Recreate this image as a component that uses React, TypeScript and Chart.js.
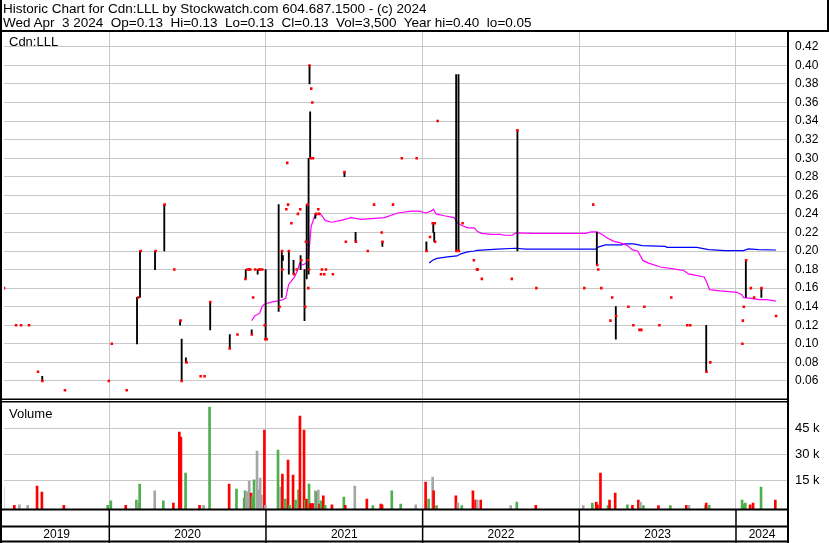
import React, { useEffect, useRef } from 'react';
import { Chart, registerables } from 'chart.js';

Chart.register(...registerables);

// ---------- text ----------
const TITLE_LINE_1 = 'Historic Chart for Cdn:LLL by Stockwatch.com 604.687.1500 - (c) 2024';
const TITLE_LINE_2 = 'Wed Apr  3 2024  Op=0.13  Hi=0.13  Lo=0.13  Cl=0.13  Vol=3,500  Year hi=0.40  lo=0.05';
const PRICE_PANEL_LABEL = 'Cdn:LLL';
const VOLUME_PANEL_LABEL = 'Volume';

// ---------- axes (dates as decimal years) ----------
const X_MIN = 2019.328;
const X_MAX = 2024.332;
const YEAR_STARTS = [2020, 2021, 2022, 2023, 2024];
const YEAR_LABELS = ['2019', '2020', '2021', '2022', '2023', '2024'];
const PRICE_MIN = 0.04;
const PRICE_MAX = 0.436;
const PRICE_STEP = 0.02;
const PRICE_LABEL_MIN = 0.06;
const PRICE_LABEL_MAX = 0.42;
const VOL_MIN = -1700;
const VOL_MAX = 62000;
const VOL_STEP = 15000;
const VOL_LABEL_MAX = 45000;

// ---------- daily high/low ranges ----------
const rangeDates = [
  2019.572, 2020.177, 2020.196, 2020.292, 2020.351, 2020.452, 2020.462, 2020.489, 2020.644, 2020.769,
  2020.871, 2020.909, 2020.947, 2020.998, 2021.081, 2021.101, 2021.108, 2021.146, 2021.176, 2021.221,
  2021.246, 2021.260, 2021.272, 2021.278, 2021.282, 2021.315, 2021.501, 2021.572, 2021.743, 2022.024,
  2022.068, 2022.074, 2022.214, 2022.229, 2022.605, 2023.112, 2023.233, 2023.810, 2024.063, 2024.162,
];
const rangeHigh = [
  0.065, 0.15, 0.20, 0.20, 0.25, 0.125, 0.105, 0.085, 0.145, 0.11,
  0.18, 0.115, 0.18, 0.18, 0.25, 0.20, 0.195, 0.20, 0.19, 0.195,
  0.18, 0.25, 0.30, 0.40, 0.35, 0.24, 0.285, 0.22, 0.21, 0.21,
  0.23, 0.22, 0.39, 0.39, 0.33, 0.22, 0.14, 0.12, 0.19, 0.16,
];
const rangeLow = [
  0.06, 0.10, 0.15, 0.18, 0.20, 0.12, 0.06, 0.08, 0.115, 0.095,
  0.17, 0.11, 0.175, 0.105, 0.135, 0.15, 0.19, 0.175, 0.175, 0.18,
  0.125, 0.17, 0.175, 0.38, 0.30, 0.235, 0.28, 0.21, 0.205, 0.20,
  0.22, 0.21, 0.20, 0.20, 0.20, 0.185, 0.105, 0.07, 0.15, 0.15,
];

// ---------- closing prices ----------
const closeDates = [
  2019.328, 2019.405, 2019.437, 2019.488, 2019.545, 2019.573, 2019.717, 2019.997, 2020.016, 2020.111,
  2020.185, 2020.201, 2020.296, 2020.353, 2020.415, 2020.455, 2020.462, 2020.493, 2020.583, 2020.608,
  2020.644, 2020.769, 2020.818, 2020.869, 2020.882, 2020.891, 2020.900, 2020.910, 2020.918, 2020.931,
  2020.956, 2020.964, 2020.977, 2020.992, 2020.996, 2021.005, 2021.087, 2021.103, 2021.105, 2021.130,
  2021.136, 2021.141, 2021.146, 2021.162, 2021.179, 2021.196, 2021.204, 2021.219, 2021.226, 2021.251,
  2021.255, 2021.266, 2021.268, 2021.270, 2021.275, 2021.278, 2021.289, 2021.296, 2021.286, 2021.300,
  2021.321, 2021.334, 2021.340, 2021.351, 2021.357, 2021.372, 2021.383, 2021.427, 2021.501, 2021.510,
  2021.574, 2021.650, 2021.690, 2021.739, 2021.744, 2021.811, 2021.867, 2021.962, 2022.026, 2022.047,
  2022.064, 2022.077, 2022.080, 2022.096, 2022.216, 2022.231, 2022.255, 2022.327, 2022.346, 2022.352,
  2022.378, 2022.569, 2022.605, 2022.726, 2023.032, 2023.089, 2023.114, 2023.121, 2023.140, 2023.199,
  2023.210, 2023.235, 2023.313, 2023.345, 2023.384, 2023.396, 2023.415, 2023.511, 2023.587, 2023.689,
  2023.708, 2023.812, 2023.836, 2024.041, 2024.044, 2024.050, 2024.065, 2024.095, 2024.116, 2024.163,
  2024.256,
];
const closePrices = [
  0.16, 0.12, 0.12, 0.12, 0.07, 0.06, 0.05, 0.06, 0.10, 0.05,
  0.15, 0.20, 0.20, 0.25, 0.18, 0.125, 0.06, 0.08, 0.065, 0.065,
  0.145, 0.095, 0.11, 0.17, 0.18, 0.18, 0.18, 0.11, 0.15, 0.18,
  0.18, 0.18, 0.18, 0.12, 0.105, 0.105, 0.14, 0.20, 0.18, 0.245,
  0.295, 0.25, 0.20, 0.23, 0.175, 0.18, 0.24, 0.245, 0.19, 0.14,
  0.21, 0.25, 0.19, 0.16, 0.18, 0.40, 0.375, 0.36, 0.30, 0.30,
  0.24, 0.245, 0.24, 0.175, 0.18, 0.175, 0.18, 0.175, 0.285, 0.21,
  0.21, 0.20, 0.25, 0.22, 0.21, 0.25, 0.30, 0.30, 0.20, 0.215,
  0.23, 0.23, 0.21, 0.34, 0.20, 0.20, 0.23, 0.19, 0.18, 0.18,
  0.17, 0.17, 0.33, 0.16, 0.16, 0.25, 0.185, 0.18, 0.16, 0.125,
  0.15, 0.13, 0.14, 0.12, 0.115, 0.115, 0.14, 0.12, 0.15, 0.12,
  0.12, 0.07, 0.08, 0.10, 0.125, 0.14, 0.19, 0.16, 0.15, 0.16,
  0.13,
];

// ---------- moving averages ----------
const maShortDates = [
  2020.909, 2020.928, 2020.960, 2020.975, 2020.992, 2021.035, 2021.098, 2021.126, 2021.145, 2021.183,
  2021.204, 2021.215, 2021.236, 2021.257, 2021.272, 2021.281, 2021.289, 2021.310, 2021.338, 2021.353,
  2021.378, 2021.417, 2021.480, 2021.544, 2021.608, 2021.671, 2021.756, 2021.841, 2021.926, 2021.979,
  2022.021, 2022.053, 2022.068, 2022.085, 2022.138, 2022.201, 2022.223, 2022.244, 2022.287, 2022.329,
  2022.350, 2022.378, 2022.435, 2022.499, 2022.520, 2022.573, 2022.594, 2022.711, 2023.040, 2023.076,
  2023.114, 2023.146, 2023.178, 2023.220, 2023.263, 2023.305, 2023.337, 2023.373, 2023.407, 2023.443,
  2023.517, 2023.602, 2023.666, 2023.697, 2023.729, 2023.797, 2023.815, 2023.831, 2023.899, 2024.006,
  2024.037, 2024.048, 2024.101, 2024.143, 2024.196, 2024.256,
];
const maShortValues = [
  0.125, 0.13, 0.133, 0.140, 0.143, 0.145, 0.147, 0.149, 0.164, 0.172,
  0.18, 0.187, 0.185, 0.187, 0.194, 0.212, 0.227, 0.237, 0.241, 0.239,
  0.233, 0.231, 0.233, 0.236, 0.234, 0.235, 0.236, 0.241, 0.243, 0.243,
  0.241, 0.243, 0.245, 0.240, 0.238, 0.236, 0.230, 0.228, 0.225, 0.225,
  0.221, 0.219, 0.218, 0.218, 0.217, 0.217, 0.2195, 0.219, 0.219, 0.2206,
  0.2206, 0.2177, 0.214, 0.2104, 0.2087, 0.2061, 0.2015, 0.1997, 0.1896, 0.187,
  0.1828, 0.1807, 0.179, 0.1753, 0.1742, 0.172, 0.1656, 0.1584, 0.157, 0.1555,
  0.153, 0.1498, 0.149, 0.1476, 0.1476, 0.146,
];
const maLongDates = [
  2022.042, 2022.064, 2022.091, 2022.159, 2022.219, 2022.244, 2022.287, 2022.329, 2022.350, 2022.478,
  2022.594, 2022.658, 2023.104, 2023.125, 2023.167, 2023.273, 2023.284, 2023.345, 2023.401, 2023.549,
  2023.560, 2023.751, 2023.825, 2023.931, 2024.048, 2024.079, 2024.143, 2024.256,
];
const maLongValues = [
  0.187, 0.19, 0.192, 0.1936, 0.1947, 0.197, 0.199, 0.200, 0.2007, 0.202,
  0.203, 0.202, 0.202, 0.2045, 0.2066, 0.2066, 0.2076, 0.2076, 0.2058, 0.205,
  0.204, 0.204, 0.2015, 0.2004, 0.2004, 0.2022, 0.2015, 0.2011,
];

// ---------- volume (d = down, u = up, f = flat) ----------
const volumeDates = [
  2019.322, 2019.394, 2019.426, 2019.479, 2019.539, 2019.570, 2019.710, 2019.990, 2020.010, 2020.105,
  2020.173, 2020.183, 2020.194, 2020.290, 2020.345, 2020.409, 2020.447, 2020.457, 2020.487, 2020.576,
  2020.602, 2020.640, 2020.765, 2020.812, 2020.861, 2020.867, 2020.875, 2020.885, 2020.893, 2020.905,
  2020.912, 2020.924, 2020.943, 2020.952, 2020.963, 2020.971, 2020.990, 2020.996, 2021.077, 2021.094,
  2021.105, 2021.124, 2021.141, 2021.151, 2021.173, 2021.189, 2021.200, 2021.208, 2021.217, 2021.243,
  2021.251, 2021.259, 2021.275, 2021.283, 2021.292, 2021.302, 2021.315, 2021.323, 2021.334, 2021.342,
  2021.351, 2021.366, 2021.378, 2021.421, 2021.497, 2021.506, 2021.567, 2021.644, 2021.682, 2021.733,
  2021.741, 2021.803, 2021.860, 2021.956, 2022.019, 2022.038, 2022.064, 2022.070, 2022.089, 2022.212,
  2022.225, 2022.250, 2022.321, 2022.338, 2022.348, 2022.371, 2022.562, 2022.601, 2022.722, 2023.025,
  2023.083, 2023.108, 2023.116, 2023.135, 2023.183, 2023.193, 2023.229, 2023.307, 2023.339, 2023.377,
  2023.390, 2023.409, 2023.505, 2023.581, 2023.683, 2023.700, 2023.804, 2023.810, 2023.829, 2024.039,
  2024.052, 2024.060, 2024.090, 2024.109, 2024.160, 2024.251,
];
const volumeValues = [
  11100, 500, 700, 400, 11700, 8200, 500, 400, 3000, 400,
  3500, 1800, 12800, 8800, 3000, 1800, 43000, 40200, 19200, 400,
  400, 57600, 12800, 9900, 4700, 8800, 8200, 8200, 14600, 7600,
  5300, 15200, 32000, 9300, 16300, 6400, 44200, 400, 32600, 11100,
  18600, 4100, 26800, 400, 18000, 3500, 400, 9300, 52400, 44200,
  3500, 4100, 12800, 1500, 1500, 1500, 8800, 8200, 9300, 1200,
  3000, 5900, 400, 700, 5300, 400, 11700, 4100, 300, 1200,
  700, 8800, 1200, 700, 14000, 4100, 16900, 8800, 300, 5900,
  1800, 300, 8800, 3500, 3500, 3500, 300, 2300, 400, 300,
  1800, 2300, 700, 19200, 300, 3500, 7600, 700, 400, 3500,
  2300, 300, 300, 300, 400, 400, 300, 1800, 400, 3500,
  1200, 1800, 700, 1800, 11100, 3500,
];
const volumeMoves = [
  'f', 'd', 'f', 'f', 'd', 'd', 'd', 'u', 'u', 'd',
  'u', 'f', 'u', 'f', 'u', 'd', 'd', 'd', 'u', 'd',
  'f', 'u', 'd', 'u', 'u', 'u', 'f', 'f', 'f', 'd',
  'u', 'u', 'f', 'f', 'f', 'f', 'd', 'f', 'u', 'f',
  'd', 'u', 'd', 'u', 'd', 'u', 'f', 'u', 'd', 'd',
  'u', 'd', 'u', 'd', 'd', 'd', 'f', 'u', 'f', 'd',
  'u', 'd', 'u', 'd', 'u', 'd', 'f', 'd', 'u', 'd',
  'd', 'u', 'u', 'f', 'd', 'u', 'f', 'd', 'u', 'd',
  'f', 'u', 'd', 'd', 'f', 'd', 'f', 'u', 'd', 'f',
  'u', 'd', 'd', 'd', 'u', 'd', 'd', 'u', 'd', 'd',
  'f', 'u', 'd', 'u', 'd', 'f', 'f', 'd', 'u', 'u',
  'u', 'u', 'd', 'd', 'u', 'd',
];

// ---------- styles ----------
const FONT = '"Liberation Sans", Arial, Helvetica, sans-serif';
const GRID = '#c8c8c8';
const RED = '#ff0000';
const GREEN = '#4cb04c';
const GRAY = '#a6a6a6';
const MAGENTA = '#ff00ff';
const BLUE = '#0000ff';
const W = 830;
const H = 543;

export default function App() {
  const canvasRef = useRef<HTMLCanvasElement | null>(null);

  useEffect(() => {
    const canvas = canvasRef.current;
    if (!canvas) return;

    const moveColor = (m: string) => (m === 'd' ? RED : m === 'u' ? GREEN : GRAY);
    const labelCenters = YEAR_LABELS.map((y) => {
      const s = Math.max(Number(y), X_MIN);
      const e = Math.min(Number(y) + 1, X_MAX);
      return (s + e) / 2;
    });
    const xTickValues = [...YEAR_STARTS, ...labelCenters].sort((a, b) => a - b);
    const isBoundary = (v: number) => YEAR_STARTS.some((b) => Math.abs(b - v) < 1e-6);
    const labelFor = (v: number) => {
      const i = labelCenters.findIndex((c) => Math.abs(c - v) < 1e-6);
      return i >= 0 ? YEAR_LABELS[i] : '';
    };
    const priceTicks: number[] = [];
    for (let i = 0; PRICE_MIN + i * PRICE_STEP <= PRICE_MAX + 1e-9; i++) {
      priceTicks.push(Math.round((PRICE_MIN + i * PRICE_STEP) * 1000) / 1000);
    }
    const volTicks: number[] = [];
    for (let v = 0; v <= VOL_MAX; v += VOL_STEP) volTicks.push(v);

    const framePlugin = {
      id: 'frame',
      afterDraw(chart: any) {
        const { ctx, chartArea: a } = chart;
        const xs = chart.scales.x;
        const yp = chart.scales.y;
        ctx.save();
        ctx.fillStyle = '#000';
        ctx.fillRect(0, 0, 2, H);
        ctx.fillRect(0, a.top - 2, W - 1, 2);
        ctx.fillRect(W - 3, 0, 2, a.top);
        ctx.fillRect(a.right - 1, a.top - 2, 2, H - a.top + 2);
        ctx.fillRect(0, yp.bottom - 1, a.right, 1.5);
        ctx.fillRect(0, yp.bottom + 1.5, a.right, 1.5);
        ctx.fillRect(0, a.bottom - 0.5, a.right, 2);
        ctx.fillRect(0, a.bottom + 16.5, a.right, 2);
        ctx.fillRect(0, H - 2.5, a.right, 2);
        YEAR_STARTS.forEach((v) => {
          const px = xs.getPixelForValue(v);
          ctx.fillRect(px - 0.75, a.bottom, 1.5, H - a.bottom);
        });
        ctx.restore();
      },
    };

    const chart = new Chart(canvas, {
      type: 'bar',
      data: {
        datasets: [
          {
            type: 'scatter',
            label: 'Close',
            data: closeDates.map((x, i) => ({ x, y: closePrices[i] })),
            yAxisID: 'y',
            pointStyle: 'rect',
            pointRadius: 1.8,
            pointBackgroundColor: RED,
            pointBorderWidth: 0,
            order: 0,
          } as any,
          {
            type: 'bar',
            label: 'Range',
            data: rangeDates.map((x, i) => ({ x, y: [rangeLow[i], rangeHigh[i]] })),
            yAxisID: 'y',
            backgroundColor: '#000',
            borderWidth: 0,
            barThickness: 1.2,
            grouped: false,
            order: 1,
          } as any,
          {
            type: 'line',
            label: 'MA short',
            data: maShortDates.map((x, i) => ({ x, y: maShortValues[i] })),
            yAxisID: 'y',
            borderColor: MAGENTA,
            borderWidth: 1.2,
            pointRadius: 0,
            tension: 0,
            order: 2,
          } as any,
          {
            type: 'line',
            label: 'MA long',
            data: maLongDates.map((x, i) => ({ x, y: maLongValues[i] })),
            yAxisID: 'y',
            borderColor: BLUE,
            borderWidth: 1.2,
            pointRadius: 0,
            tension: 0,
            order: 2,
          } as any,
          {
            type: 'bar',
            label: 'Volume',
            data: volumeDates.map((x, i) => ({ x, y: [VOL_MIN, volumeValues[i]] })),
            yAxisID: 'yv',
            backgroundColor: volumeMoves.map(moveColor),
            borderWidth: 0,
            barThickness: 2,
            grouped: false,
            order: 3,
          } as any,
        ],
      },
      options: {
        responsive: false,
        animation: false,
        devicePixelRatio: 1,
        events: [],
        layout: { padding: { top: 32, left: 2, right: 0, bottom: 0 } },
        plugins: {
          legend: { display: false },
          tooltip: { enabled: false },
          title: { display: false },
        },
        scales: {
          x: {
            type: 'linear',
            position: 'bottom',
            min: X_MIN,
            max: X_MAX,
            bounds: 'data',
            offset: false,
            grid: {
              offset: false,
              drawTicks: false,
              lineWidth: 1,
              color: (c: any) => (c.tick && isBoundary(c.tick.value) ? GRID : 'rgba(0,0,0,0)'),
            },
            border: { display: false },
            afterBuildTicks: (s: any) => {
              s.ticks = xTickValues.map((value) => ({ value }));
            },
            afterFit: (s: any) => {
              s.height = 34;
            },
            ticks: {
              autoSkip: false,
              maxRotation: 0,
              minRotation: 0,
              padding: 18.5,
              color: '#000',
              font: { family: FONT, size: 12 },
              callback: (v: any) => labelFor(Number(v)),
            },
          },
          y: {
            type: 'linear',
            position: 'right',
            stack: 'panels',
            stackWeight: 367.5,
            min: PRICE_MIN,
            max: PRICE_MAX,
            bounds: 'data',
            beginAtZero: false,
            grid: { color: GRID, lineWidth: 1, drawTicks: false },
            border: { display: false },
            afterBuildTicks: (s: any) => {
              s.ticks = priceTicks.map((value) => ({ value }));
            },
            afterFit: (s: any) => {
              s.width = 42;
            },
            ticks: {
              autoSkip: false,
              padding: 7,
              color: '#000',
              font: { family: FONT, size: 12 },
              callback: (v: any) => {
                const n = Number(v);
                return n > PRICE_LABEL_MIN - 0.001 && n < PRICE_LABEL_MAX + 0.001 ? n.toFixed(2) : '';
              },
            },
          },
          yv: {
            type: 'linear',
            position: 'right',
            stack: 'panels',
            stackWeight: 109.5,
            min: VOL_MIN,
            max: VOL_MAX,
            bounds: 'data',
            beginAtZero: false,
            grid: {
              lineWidth: 1,
              drawTicks: false,
              color: (c: any) =>
                c.tick && c.tick.value > 0 && c.tick.value <= VOL_LABEL_MAX ? GRID : 'rgba(0,0,0,0)',
            },
            border: { display: false },
            afterBuildTicks: (s: any) => {
              s.ticks = volTicks.map((value) => ({ value }));
            },
            afterFit: (s: any) => {
              s.width = 42;
            },
            ticks: {
              autoSkip: false,
              padding: 7,
              color: '#000',
              font: { family: FONT, size: 13 },
              callback: (v: any) => {
                const n = Number(v);
                return n > 0 && n <= VOL_LABEL_MAX ? `${Math.round(n / 1000)} k` : '';
              },
            },
          },
        },
      } as any,
      plugins: [framePlugin],
    });

    return () => chart.destroy();
  }, []);

  const textStyle: React.CSSProperties = {
    position: 'absolute',
    fontFamily: FONT,
    fontSize: 13,
    lineHeight: '14.4px',
    color: '#000',
    whiteSpace: 'pre',
    pointerEvents: 'none',
  };

  return (
    <div style={{ position: 'absolute', left: 0, top: 0, width: W, height: H, background: '#fff', overflow: 'hidden' }}>
      <canvas ref={canvasRef} width={W} height={H} style={{ position: 'absolute', left: 0, top: 0, width: W, height: H }} />
      <div style={{ ...textStyle, fontSize: 13.5, left: 3, top: 1.5 }}>{TITLE_LINE_1}</div>
      <div style={{ ...textStyle, fontSize: 13.5, left: 3, top: 15.9 }}>{TITLE_LINE_2}</div>
      <div style={{ ...textStyle, left: 9, top: 34.5 }}>{PRICE_PANEL_LABEL}</div>
      <div style={{ ...textStyle, left: 9, top: 406.5 }}>{VOLUME_PANEL_LABEL}</div>
    </div>
  );
}
